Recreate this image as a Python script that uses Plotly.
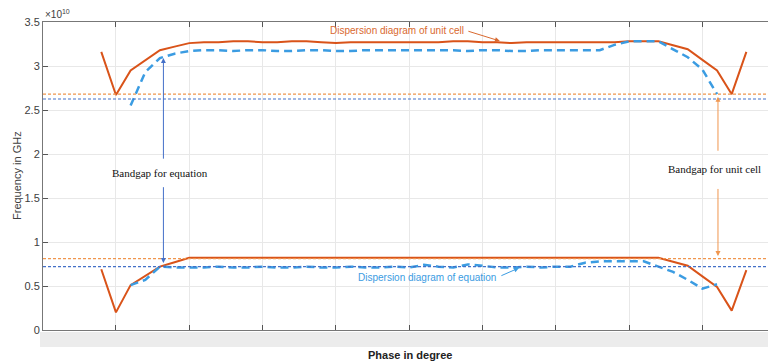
import plotly.graph_objects as go

# ---- data (frequency in units of 1e10 Hz, phase in degrees) ----
phase_unit = [-8, 0, 8, 16, 24, 32, 40, 48, 56, 64, 72, 80, 88, 96, 104, 112, 120, 128, 136, 144,
              152, 160, 168, 176, 184, 192, 200, 208, 216, 224, 232, 240, 248, 256, 264, 272, 280,
              288, 296, 304, 312, 320, 328, 336, 344]
unit_upper = [3.16, 2.67, 2.95, 3.07, 3.18, 3.22, 3.26, 3.27, 3.27, 3.28, 3.28, 3.27, 3.27, 3.28, 3.28,
              3.27, 3.26, 3.27, 3.27, 3.27, 3.27, 3.27, 3.27, 3.27, 3.28, 3.28, 3.27, 3.27, 3.26, 3.27,
              3.27, 3.27, 3.27, 3.27, 3.27, 3.27, 3.28, 3.28, 3.28, 3.235, 3.19, 3.07, 2.95, 2.68, 3.16]
unit_lower = [0.69, 0.20, 0.51, 0.62, 0.72, 0.77, 0.82, 0.82, 0.82, 0.82, 0.82, 0.82, 0.82, 0.82, 0.82,
              0.82, 0.815, 0.82, 0.82, 0.82, 0.82, 0.82, 0.82, 0.82, 0.82, 0.82, 0.82, 0.815, 0.82, 0.82,
              0.82, 0.82, 0.82, 0.82, 0.82, 0.82, 0.82, 0.82, 0.82, 0.775, 0.73, 0.61, 0.49, 0.22, 0.68]

phase_eq = [8, 16, 24, 32, 40, 48, 56, 64, 72, 80, 88, 96, 104, 112, 120, 128, 136, 144, 152, 160,
            168, 176, 184, 192, 200, 208, 216, 224, 232, 240, 248, 256, 264, 272, 280, 288, 296, 304,
            312, 320, 328]
eq_upper = [2.55, 2.93, 3.09, 3.14, 3.17, 3.18, 3.18, 3.17, 3.18, 3.18, 3.17, 3.17, 3.18, 3.18, 3.17,
            3.17, 3.18, 3.18, 3.18, 3.18, 3.18, 3.18, 3.18, 3.17, 3.18, 3.18, 3.17, 3.17, 3.18, 3.18,
            3.18, 3.18, 3.18, 3.24, 3.28, 3.28, 3.28, 3.19, 3.10, 2.96, 2.68]
eq_lower = [0.51, 0.57, 0.72, 0.71, 0.71, 0.71, 0.72, 0.71, 0.71, 0.72, 0.71, 0.71, 0.72, 0.71, 0.71,
            0.72, 0.71, 0.71, 0.72, 0.71, 0.74, 0.72, 0.71, 0.745, 0.73, 0.71, 0.71, 0.72, 0.71, 0.72,
            0.72, 0.765, 0.78, 0.78, 0.78, 0.78, 0.72, 0.66, 0.57, 0.47, 0.52]

bandgap_unit_levels = [2.68, 0.81]
bandgap_eq_levels = [2.625, 0.72]

y_ticks = [0, 0.5, 1, 1.5, 2, 2.5, 3, 3.5]
y_tick_text = ["0", "0.5", "1", "1.5", "2", "2.5", "3", "3.5"]

ORANGE = "#D95319"
BLUE = "#3B9CE2"
ORANGE_LIGHT = "#F0964E"
BLUE_DARK = "#4470C8"

fig = go.Figure()

for lvl in bandgap_unit_levels:
    fig.add_shape(type="line", xref="paper", yref="y", x0=0, x1=1, y0=lvl, y1=lvl,
                  line=dict(color=ORANGE_LIGHT, width=1.2, dash="3px,2px"), layer="above")
for lvl in bandgap_eq_levels:
    fig.add_shape(type="line", xref="paper", yref="y", x0=0, x1=1, y0=lvl, y1=lvl,
                  line=dict(color=BLUE_DARK, width=1.2, dash="3px,2px"), layer="above")

fig.add_trace(go.Scatter(x=phase_unit, y=unit_upper, mode="lines",
                         line=dict(color=ORANGE, width=2), showlegend=False))
fig.add_trace(go.Scatter(x=phase_unit, y=unit_lower, mode="lines",
                         line=dict(color=ORANGE, width=2), showlegend=False))
fig.add_trace(go.Scatter(x=phase_eq, y=eq_upper, mode="lines",
                         line=dict(color=BLUE, width=2.5, dash="8px,5px"), showlegend=False))
fig.add_trace(go.Scatter(x=phase_eq, y=eq_lower, mode="lines",
                         line=dict(color=BLUE, width=2.5, dash="8px,5px"), showlegend=False))

# grey band under the x axis (covers tick labels in original)
fig.add_shape(type="rect", xref="paper", yref="paper", x0=-3 / 725, x1=1, y0=-17 / 308, y1=-2 / 308,
              fillcolor="#ececec", line=dict(width=0), layer="above")

ann = []
sans = "Liberation Sans, Arial, sans-serif"
serif = "Liberation Serif, Times New Roman, serif"

# text labels
ann.append(dict(x=191, y=3.40, xref="x", yref="y", text="Dispersion diagram of unit cell",
                showarrow=False, xanchor="right", yanchor="middle",
                font=dict(family=sans, size=10, color="#D9692F")))
ann.append(dict(x=209.5, y=3.284, ax=191.5, ay=3.40, xref="x", yref="y", axref="x", ayref="y",
                text="", showarrow=True, arrowhead=2, arrowsize=1, arrowwidth=1,
                arrowcolor="#D9692F", standoff=0))
ann.append(dict(x=208.5, y=0.60, xref="x", yref="y", text="Dispersion diagram of equation",
                showarrow=False, xanchor="right", yanchor="middle",
                font=dict(family=sans, size=10, color=BLUE)))
ann.append(dict(x=219.9, y=0.705, ax=209.5, ay=0.61, xref="x", yref="y", axref="x", ayref="y",
                text="", showarrow=True, arrowhead=2, arrowsize=1, arrowwidth=1,
                arrowcolor=BLUE, standoff=0))

ann.append(dict(x=24, y=1.785, xref="x", yref="y", text="Bandgap for equation",
                showarrow=False, xanchor="center", yanchor="middle",
                font=dict(family=serif, size=11, color="#111")))
ann.append(dict(x=25.9, y=3.09, ax=25.9, ay=1.93, xref="x", yref="y", axref="x", ayref="y",
                text="", showarrow=True, arrowhead=2, arrowsize=1, arrowwidth=1,
                arrowcolor=BLUE_DARK, standoff=0))
ann.append(dict(x=25.9, y=0.76, ax=25.9, ay=1.64, xref="x", yref="y", axref="x", ayref="y",
                text="", showarrow=True, arrowhead=2, arrowsize=1, arrowwidth=1,
                arrowcolor=BLUE_DARK, standoff=0))

ann.append(dict(x=326.5, y=1.83, xref="x", yref="y", text="Bandgap for unit cell",
                showarrow=False, xanchor="center", yanchor="middle",
                font=dict(family=serif, size=11, color="#111")))
ann.append(dict(x=328.5, y=2.65, ax=328.5, ay=2.02, xref="x", yref="y", axref="x", ayref="y",
                text="", showarrow=True, arrowhead=2, arrowsize=1, arrowwidth=1,
                arrowcolor=ORANGE_LIGHT, standoff=0))
ann.append(dict(x=328.5, y=0.84, ax=328.5, ay=1.62, xref="x", yref="y", axref="x", ayref="y",
                text="", showarrow=True, arrowhead=2, arrowsize=1, arrowwidth=1,
                arrowcolor=ORANGE_LIGHT, standoff=0))

# exponent label
ann.append(dict(x=0, y=1, xref="paper", yref="paper", text="×10<sup>10</sup>",
                showarrow=False, xanchor="left", yanchor="bottom", yshift=0,
                font=dict(family=sans, size=10, color="#404040")))
# axis titles
ann.append(dict(x=(410 - 43) / 725, y=-25 / 308, xref="paper", yref="paper", text="<b>Phase in degree</b>",
                showarrow=False, xanchor="center", yanchor="middle",
                font=dict(family=sans, size=11, color="#222")))
ann.append(dict(x=-26 / 725, y=0.5, xref="paper", yref="paper", text="Frequency in GHz",
                textangle=-90, showarrow=False, xanchor="center", yanchor="middle",
                font=dict(family=sans, size=11, color="#404040")))

fig.update_layout(
    width=768, height=362,
    margin=dict(l=43, r=0, t=22, b=32),
    paper_bgcolor="white", plot_bgcolor="white",
    annotations=ann,
    showlegend=False,
    xaxis=dict(range=[-39.8, 355.8], tick0=0, dtick=40, showticklabels=False,
               ticks="inside", ticklen=5, tickcolor="#555", showgrid=True, gridcolor="#e8e8e8",
               showline=True, linecolor="#777", linewidth=1, mirror="ticks", zeroline=False),
    yaxis=dict(range=[0, 3.5], tickvals=y_ticks, ticktext=y_tick_text,
               ticks="inside", ticklen=5, tickcolor="#555", showgrid=True, gridcolor="#e8e8e8",
               showline=True, linecolor="#777", linewidth=1, zeroline=False, automargin=False,
               tickfont=dict(family=sans, size=11, color="#404040")),
)

fig.write_html("out.html", config={"displayModeBar": False},
               post_script="document.body.style.margin='0';document.body.style.padding='0';")
